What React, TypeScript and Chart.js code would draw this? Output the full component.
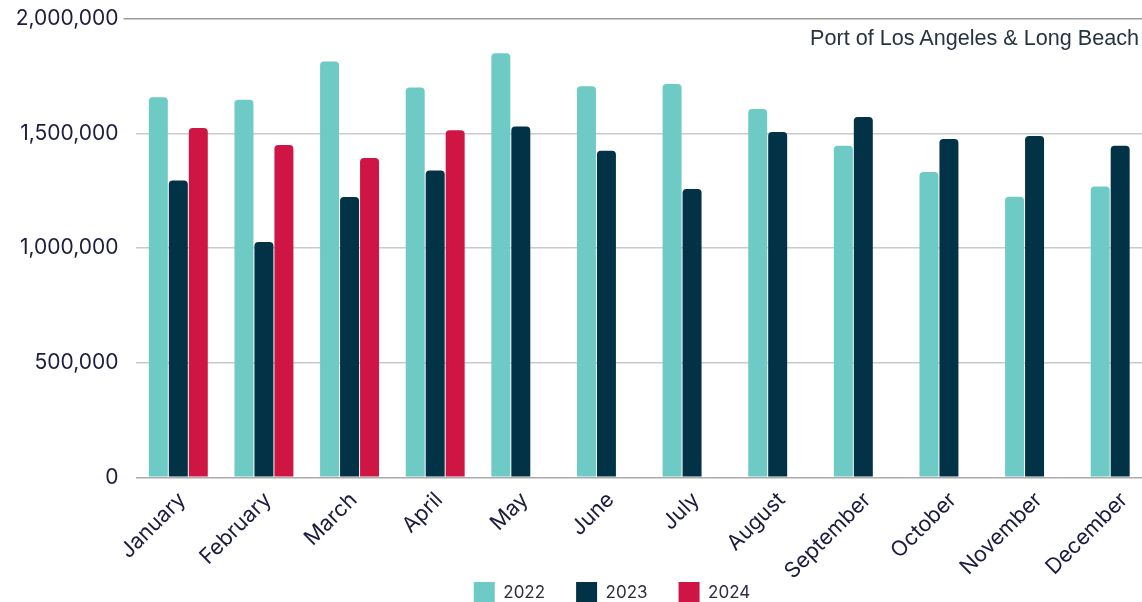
import React, { useEffect, useRef } from "react";
import { Chart, registerables } from "chart.js";

Chart.register(...registerables);

const months = [
  "January", "February", "March", "April", "May", "June",
  "July", "August", "September", "October", "November", "December",
];
const values2022 = [1659000, 1648000, 1815000, 1701000, 1851000, 1706000, 1716000, 1607000, 1447000, 1332000, 1224000, 1269000];
const values2023 = [1295000, 1027000, 1223000, 1339000, 1531000, 1425000, 1258000, 1507000, 1572000, 1476000, 1489000, 1447000];
const values2024 = [1524000, 1450000, 1393000, 1515000, null, null, null, null, null, null, null, null];
const yTicks = [0, 500000, 1000000, 1500000, 2000000];
const seriesNames = ["2022", "2023", "2024"];
const seriesColors = ["#6ecac4", "#023246", "#cf1544"];
const subtitle = "Port of Los Angeles & Long Beach";

const TEXT = "#1d1b3f";
const FONT = "Inter, 'DejaVu Sans', sans-serif";

const CANVAS_W = 1163;
const CANVAS_H = 700;
const PLOT_BOTTOM = 477.3;
const LEGEND_PAD = 31;
const LEGEND_BOX_TOP = 582;
const LEGEND_CENTER = 612;

const legendPlacer = {
  id: "legendPlacer",
  afterLayout(chart: any) {
    const lg = chart.legend;
    if (!lg) return;
    const h = lg.bottom - lg.top;
    const w = lg.right - lg.left;
    const top = LEGEND_BOX_TOP - LEGEND_PAD;
    const left = LEGEND_CENTER - w / 2;
    lg.top = top;
    lg.bottom = top + h;
    lg.left = left;
    lg.right = left + w;
  },
};

export default function App() {
  const ref = useRef<HTMLCanvasElement | null>(null);

  useEffect(() => {
    const canvas = ref.current;
    if (!canvas) return;
    const series = [values2022, values2023, values2024];
    const chart = new Chart(canvas, {
      type: "bar",
      data: {
        labels: months,
        datasets: series.map((d, i) => ({
          label: seriesNames[i],
          data: d,
          backgroundColor: seriesColors[i],
          borderColor: seriesColors[i],
          borderWidth: 0,
          borderRadius: { topLeft: 4, topRight: 4, bottomLeft: 0, bottomRight: 0 },
          borderSkipped: "bottom",
          categoryPercentage: 0.7,
          barPercentage: 0.95,
        })),
      },
      plugins: [legendPlacer],
      options: {
        animation: false,
        responsive: false,
        devicePixelRatio: 1,
        layout: { padding: { left: 0, right: 0, top: 19, bottom: 0 } },
        plugins: {
          title: { display: false },
          tooltip: { enabled: false },
          legend: {
            position: "bottom",
            labels: {
              boxWidth: 21,
              boxHeight: 21,
              padding: LEGEND_PAD,
              color: "#2e2a48",
              font: { family: FONT, size: 17 },
            },
          },
        },
        scales: {
          x: {
            grid: { display: false, drawTicks: false },
            border: { display: false },
            ticks: {
              maxRotation: 45,
              minRotation: 45,
              padding: 10,
              labelOffset: 4,
              color: TEXT,
              font: { family: FONT, size: 21.5 },
              autoSkip: false,
            },
            afterFit: (s: any) => {
              s.height = CANVAS_H - (21 + LEGEND_PAD + 10) - PLOT_BOTTOM;
            },
          },
          y: {
            min: 0,
            max: 2000000,
            afterBuildTicks: (s: any) => {
              s.ticks = yTicks.map((v) => ({ value: v }));
            },
            grid: {
              color: (c: any) =>
                c.tick && c.tick.value === 2000000 ? "#9c9c9c" : c.tick && c.tick.value === 0 ? "#aaaaaa" : "#cacaca",
              tickColor: (c: any) => (c.tick && c.tick.value === 2000000 ? "#9c9c9c" : "rgba(0,0,0,0)"),
              lineWidth: 1.5,
              tickLength: 12,
              drawTicks: true,
            },
            border: { display: false },
            ticks: {
              padding: 5,
              color: TEXT,
              font: { family: FONT, size: 21 },
              callback: (v: any) => Number(v).toLocaleString("en-US"),
            },
            afterFit: (s: any) => {
              s.width = 135.5;
            },
          },
        },
      },
    });
    return () => chart.destroy();
  }, []);

  return (
    <div
      style={{
        position: "fixed",
        left: 0,
        top: 0,
        width: 1142,
        height: 602,
        overflow: "hidden",
        background: "#fff",
      }}
    >
      <canvas
        ref={ref}
        width={CANVAS_W}
        height={CANVAS_H}
        style={{ display: "block", width: CANVAS_W, height: CANVAS_H }}
      />
      <div
        style={{
          position: "absolute",
          right: 3,
          top: 27,
          fontFamily: "'Liberation Sans', Arial, sans-serif",
          fontSize: 21.6,
          lineHeight: 1,
          color: "#263340",
          whiteSpace: "nowrap",
        }}
      >
        {subtitle}
      </div>
    </div>
  );
}
